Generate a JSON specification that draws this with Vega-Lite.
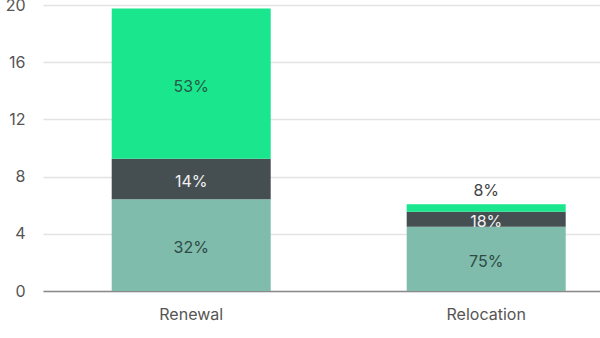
{
  "$schema": "https://vega.github.io/schema/vega-lite/v6.json",
  "autosize": {"type": "none"},
  "width": 557,
  "height": 286,
  "padding": {"left": 43, "top": 5, "right": 0, "bottom": 47},
  "background": "white",
  "config": {
    "view": {"stroke": null},
    "font": "Inter"
  },
  "data": {
    "values": [
      {"type": "Renewal", "segment": "A", "order": 1, "value": 6.41, "label": "32%"},
      {"type": "Renewal", "segment": "B", "order": 2, "value": 2.83, "label": "14%"},
      {"type": "Renewal", "segment": "C", "order": 3, "value": 10.51, "label": "53%"},
      {"type": "Relocation", "segment": "A", "order": 1, "value": 4.49, "label": "75%"},
      {"type": "Relocation", "segment": "B", "order": 2, "value": 1.06, "label": "18%"},
      {"type": "Relocation", "segment": "C", "order": 3, "value": 0.51, "label": "8%"}
    ]
  },
  "transform": [
    {"stack": "value", "groupby": ["type"], "sort": [{"field": "order"}], "as": ["y0", "y1"]},
    {"calculate": "(datum.y0 + datum.y1) / 2", "as": "mid"}
  ],
  "encoding": {
    "x": {
      "field": "type",
      "type": "nominal",
      "sort": ["Renewal", "Relocation"],
      "scale": {"paddingInner": 0.461, "paddingOuter": 0.1746, "align": 0.667},
      "axis": {
        "title": null,
        "labelAngle": 0,
        "ticks": false,
        "domainColor": "#8a8a8a",
        "domainWidth": 1.5,
        "labelColor": "#555555",
        "labelFontSize": 16,
        "labelPadding": 15,
        "labelFont": "Inter"
      }
    }
  },
  "layer": [
    {
      "mark": {"type": "bar"},
      "encoding": {
        "y": {
          "field": "y0",
          "type": "quantitative",
          "scale": {"domain": [0, 20], "nice": false},
          "axis": {
            "title": null,
            "values": [0, 4, 8, 12, 16, 20],
            "ticks": false,
            "domain": false,
            "gridColor": "#e3e3e3",
            "gridWidth": 1.5,
            "labelColor": "#555555",
            "labelFontSize": 16,
            "labelPadding": 18,
            "labelFont": "Inter"
          }
        },
        "y2": {"field": "y1"},
        "color": {
          "field": "segment",
          "type": "nominal",
          "scale": {"domain": ["A", "B", "C"], "range": ["#7fbcac", "#454f52", "#19e68d"]},
          "legend": null
        }
      }
    },
    {
      "transform": [{"filter": "datum.y1 - datum.y0 >= 0.8"}],
      "mark": {"type": "text", "fontSize": 16, "font": "Inter", "dy": 3},
      "encoding": {
        "y": {"field": "mid", "type": "quantitative"},
        "text": {"field": "label"},
        "color": {
          "field": "segment",
          "type": "nominal",
          "scale": {"domain": ["A", "B", "C"], "range": ["#2f4a44", "#f2f2f2", "#2a5a45"]},
          "legend": null
        }
      }
    },
    {
      "transform": [{"filter": "datum.y1 - datum.y0 < 0.8"}],
      "mark": {"type": "text", "fontSize": 16, "font": "Inter", "color": "#444444", "dy": -13},
      "encoding": {
        "y": {"field": "y1", "type": "quantitative"},
        "text": {"field": "label"}
      }
    }
  ],
  "resolve": {"scale": {"color": "independent"}}
}
